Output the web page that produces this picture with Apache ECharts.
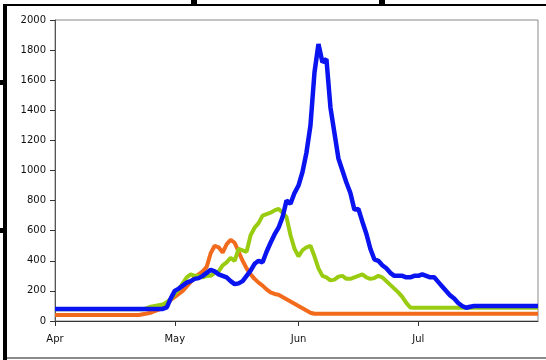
<!DOCTYPE html>
<html>
<head>
<meta charset="utf-8">
<script src="https://cdn.jsdelivr.net/npm/echarts@6/dist/echarts.min.js"></script>
<style>
html,body{margin:0;padding:0;background:#fff;}
#chart{width:546px;height:360px;}
</style>
</head>
<body>
<div id="chart"></div>
<script>
// Month labels and day counts (Apr 1 .. Jul 31, one category per day)
var monthNames = ['Apr', 'May', 'Jun', 'Jul'];
var monthDays = [30, 31, 30, 31];
var yTicks = [0, 200, 400, 600, 800, 1000, 1200, 1400, 1600, 1800, 2000];

// Daily values (index 0 = Apr 1)
var blueValues = [
  80,80,80,80,80,80,80,80,80,80, 80,80,80,80,80,80,80,80,80,80,
  80,80,80,80,80,80,80,80,90,150, 200,215,235,255,265,280,285,300,320,340,
  330,310,300,290,265,245,250,265,300,335, 380,400,390,460,520,575,620,690,800,780,
  850,900,990,1120,1300,1650,1840,1720,1740,1420, 1250,1080,1000,920,850,740,745,660,580,480,
  410,400,370,350,320,300,300,300,290,290, 300,300,310,300,290,290,260,230,200,170,
  150,120,100,88,95,100,100,100,100,100, 100,100,100,100,100,100,100,100,100,100,
  100,100
];
var greenValues = [
  78,78,78,78,78,78,78,78,78,78, 78,78,78,78,78,78,78,78,78,78,
  78,78,78,85,95,100,105,110,125,145, 180,210,250,290,310,300,300,290,300,300,
  320,330,370,390,420,400,480,470,460,570, 620,650,700,710,720,735,745,720,690,570,
  480,430,470,490,500,430,350,300,290,270, 275,295,300,280,280,290,300,310,290,280,
  285,300,290,265,240,215,190,160,120,90, 88,88,88,88,88,88,88,88,88,88,
  88,88,88,88,88,88,88,88,88,88, 88,88,88,88,88,88,88,88,88,88,
  88,88
];
var orangeValues = [
  40,40,40,40,40,40,40,40,40,40, 40,40,40,40,40,40,40,40,40,40,
  40,40,45,50,55,65,75,85,110,140, 160,180,200,230,260,290,310,330,360,450,
  500,490,455,510,540,520,460,400,350,310, 280,255,235,210,190,180,175,160,145,130,
  115,100,85,70,55,48,48,48,48,48, 48,48,48,48,48,48,48,48,48,48,
  48,48,48,48,48,48,48,48,48,48, 48,48,48,48,48,48,48,48,48,48,
  48,48,48,48,48,48,48,48,48,48, 48,48,48,48,48,48,48,48,48,48,
  48,48
];

var categories = [];
var monthStart = {};
for (var m = 0; m < monthNames.length; m++) {
  for (var d = 1; d <= monthDays[m]; d++) {
    var key = monthNames[m] + '-' + d;
    if (d === 1) monthStart[categories.length] = monthNames[m];
    categories.push(key);
  }
}

var chart = echarts.init(document.getElementById('chart'), null, {renderer: 'canvas'});
var font = 'DejaVu Sans';
function isStart(i) { return monthStart[i] !== undefined; }

chart.setOption({
  animation: false,
  backgroundColor: '#ffffff',
  grid: {
    left: 55, right: 8, top: 20, bottom: 39,
    show: true, borderColor: '#8a8a8a', borderWidth: 1, backgroundColor: '#ffffff'
  },
  xAxis: {
    type: 'category',
    data: categories,
    boundaryGap: false,
    axisLine: {lineStyle: {color: '#333', width: 1}},
    axisTick: {show: true, length: 5, interval: function (i) { return isStart(i); }, lineStyle: {color: '#333'}},
    axisLabel: {
      interval: function (i) { return isStart(i); },
      formatter: function (v, i) { return monthStart[i] || ''; },
      fontFamily: font, fontSize: 10, color: '#111', margin: 13
    },
    splitLine: {show: false}
  },
  yAxis: {
    type: 'value',
    min: yTicks[0], max: yTicks[yTicks.length - 1], interval: 200,
    axisLine: {show: true, lineStyle: {color: '#555', width: 1}},
    axisTick: {show: true, length: 5, lineStyle: {color: '#333'}},
    axisLabel: {
      fontFamily: font, fontSize: 10, color: '#111', margin: 9,
      formatter: function (v) { return String(v); }
    },
    splitLine: {show: false}
  },
  series: [
    {type: 'line', data: orangeValues, symbol: 'none', lineStyle: {color: '#f26a1b', width: 4}, z: 2},
    {type: 'line', data: greenValues, symbol: 'none', lineStyle: {color: '#99cc11', width: 4}, z: 3},
    {type: 'line', data: blueValues, symbol: 'none', lineStyle: {color: '#0a14f0', width: 4.5}, z: 4}
  ],
  graphic: [
    {type: 'rect', shape: {x: 3, y: 4, width: 543, height: 2}, style: {fill: '#000'}},
    {type: 'rect', shape: {x: 191, y: 0, width: 6, height: 6}, style: {fill: '#000'}},
    {type: 'rect', shape: {x: 379, y: 0, width: 6, height: 6}, style: {fill: '#000'}},
    {type: 'rect', shape: {x: 3, y: 4, width: 4, height: 356}, style: {fill: '#000'}},
    {type: 'rect', shape: {x: 0, y: 80, width: 4, height: 5}, style: {fill: '#000'}},
    {type: 'rect', shape: {x: 0, y: 228, width: 4, height: 5}, style: {fill: '#000'}},
    {type: 'rect', shape: {x: 7, y: 357, width: 539, height: 2}, style: {fill: '#8a8a8a'}}
  ]
});
</script>
</body>
</html>
